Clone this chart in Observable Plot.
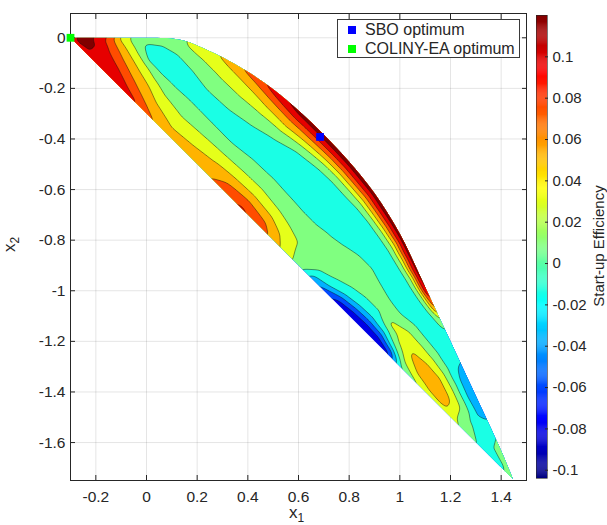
<!DOCTYPE html>
<html><head><meta charset="utf-8">
<script src="https://cdn.jsdelivr.net/npm/d3@7"></script>
<script src="https://cdn.jsdelivr.net/npm/@observablehq/plot@0.6"></script>
<style>
body{margin:0;background:#fff;}
#wrap{position:relative;width:607px;height:525px;font-family:"Liberation Sans",Arial,Helvetica,sans-serif;color:#262626;overflow:hidden;}
#wrap svg{position:absolute;top:0;}
.lab{position:absolute;white-space:nowrap;line-height:1;}
#legend{position:absolute;left:337px;top:19px;width:181px;height:37px;border:1px solid #3a3a3a;background:#fff;font-size:16px;}
#legend .row{position:absolute;left:0;height:18px;}
#legend .sw{position:absolute;left:10px;width:8px;height:8px;}
#legend .tx{position:absolute;left:27px;top:0;line-height:18px;}
</style></head><body><div id="wrap"></div>
<script>
// ---------- data ----------
// contour levels of start-up efficiency (10 equal steps over the data range)
const levels = [-0.104, -0.0816, -0.0592, -0.0368, -0.0144, 0.008, 0.0304, 0.0528, 0.0752, 0.0976];
// upper boundary of the feasible region (x1, x2); lower boundary is the straight line between its two ends
const topX = [-0.3, 0, 0.1, 0.15, 0.2, 0.3, 0.4, 0.5, 0.6, 0.7, 0.8, 0.9, 1.0, 1.1, 1.2, 1.3, 1.4, 1.447];
const topY = [0, 0, -0.003, -0.012, -0.03, -0.077, -0.134, -0.203, -0.287, -0.383, -0.49, -0.615, -0.775, -0.985, -1.2, -1.415, -1.632, -1.745];
// cross-sections of the region, position c = x1 - x2
const secC = [-0.3, -0.25, -0.2, -0.15, -0.1, -0.05, 0, 0.1, 0.2, 0.3, 0.45, 0.6, 0.75, 0.9, 1.05, 1.2, 1.3, 1.4, 1.5, 1.6, 1.7, 1.8, 1.9, 2.0, 2.1, 2.2, 2.3, 2.4, 2.5, 2.6, 2.7, 2.8, 2.9, 3.0, 3.1, 3.19];
// readings measured up from the lower boundary: [offset, efficiency]
const lowS = [
 [[0,0.088]],
 [[0,0.088],[0.005,0.0976]],
 [[0,0.086],[0.011,0.0976],[0.024,0.108],[0.04,0.0976]],
 [[0,0.088]],
 [[0,0.09],[0.054,0.0752],[0.077,0.0528]],
 [[0,0.09],[0.045,0.0752],[0.069,0.0528],[0.09,0.0304]],
 [[0,0.09],[0.0375,0.0752],[0.06,0.0528],[0.084,0.0304],[0.1065,0.008]],
 [[0,0.082],[0.021,0.0752],[0.044,0.0528],[0.071,0.0304],[0.096,0.008],[0.107,-0.0144],[0.136,-0.03]],
 [[0,0.078],[0.007,0.0752],[0.027,0.0528],[0.059,0.0304],[0.084,0.008],[0.107,-0.0144],[0.142,-0.032]],
 [[0,0.06],[0.01,0.0528],[0.04,0.0304],[0.072,0.008],[0.109,-0.0144],[0.142,-0.033]],
 [[0,0.042],[0.023,0.0304],[0.063,0.008],[0.113,-0.0144],[0.14,-0.034]],
 [[0,0.042],[0.03,0.0304],[0.068,0.008],[0.112,-0.0144],[0.14,-0.035]],
 [[0,0.045],[0.04,0.0304],[0.072,0.008],[0.111,-0.0144],[0.145,-0.035]],
 [[0,0.066],[0.024,0.0528],[0.047,0.0304],[0.076,0.008],[0.12,-0.0144],[0.155,-0.035]],
 [[0,0.08],[0.006,0.0752],[0.03,0.0528],[0.05,0.0304],[0.078,0.008],[0.122,-0.0144],[0.17,-0.034]],
 [[0,0.066],[0.02,0.0528],[0.043,0.0304],[0.07,0.008],[0.118,-0.0144],[0.175,-0.033]],
 [[0,0.045],[0.025,0.0304],[0.06,0.008],[0.115,-0.0144],[0.175,-0.033]],
 [[0,0.02],[0.045,0.008],[0.115,-0.0144],[0.175,-0.033]],
 [[0,-0.002],[0.122,-0.0144],[0.175,-0.033]],
 [[0,-0.045],[0.01,-0.0368],[0.03,-0.0144],[0.06,-0.002],[0.13,-0.0144],[0.18,-0.033]],
 [[0,-0.07],[0.008,-0.0592],[0.018,-0.0368],[0.045,-0.0144],[0.09,-0.002],[0.14,-0.0144],[0.18,-0.032]],
 [[0,-0.092],[0.012,-0.0816],[0.022,-0.0592],[0.033,-0.0368],[0.06,-0.0144],[0.1,-0.003],[0.14,-0.0144],[0.175,-0.03]],
 [[0,-0.098],[0.018,-0.0816],[0.028,-0.0592],[0.04,-0.0368],[0.068,-0.0144],[0.095,-0.004],[0.125,-0.0144],[0.165,-0.03]],
 [[0,-0.1],[0.02,-0.0816],[0.03,-0.0592],[0.042,-0.0368],[0.068,-0.0144],[0.09,-0.005],[0.112,-0.0144],[0.15,-0.03]],
 [[0,-0.098],[0.018,-0.0816],[0.027,-0.0592],[0.036,-0.0368],[0.05,-0.0144],[0.062,0.008],[0.068,0.016],[0.075,0.008],[0.09,-0.004],[0.105,-0.0144],[0.14,-0.03]],
 [[0,-0.088],[0.008,-0.0816],[0.014,-0.0592],[0.02,-0.0368],[0.03,-0.0144],[0.045,0.008],[0.065,0.022],[0.088,0.008],[0.1,-0.004],[0.11,-0.0144],[0.14,-0.028]],
 [[0,-0.022],[0.005,-0.0144],[0.018,0.008],[0.042,0.0304],[0.049,0.034],[0.056,0.0304],[0.085,0.008],[0.095,-0.004],[0.105,-0.0144],[0.13,-0.028]],
 [[0,-0.003],[0.004,0.008],[0.02,0.0304],[0.038,0.046],[0.06,0.0304],[0.08,0.008],[0.09,-0.004],[0.1,-0.0144],[0.125,-0.027]],
 [[0,0.02],[0.012,0.0304],[0.034,0.048],[0.057,0.0304],[0.072,0.008],[0.082,-0.004],[0.09,-0.0144],[0.11,-0.03]],
 [[0,0.02],[0.008,0.0304],[0.024,0.044],[0.04,0.0304],[0.058,0.008],[0.066,-0.004],[0.075,-0.0144]],
 [[0,0.018],[0.04,0.008],[0.048,-0.004],[0.058,-0.0144]],
 [[0,0.004],[0.03,-0.0144]],
 [[0,-0.014]],
 [[0,-0.022]],
 [[0,-0.018]],
 [[0,-0.006]]
];
// readings measured down from the upper boundary: [depth, efficiency]
const topS = [
 [],
 [[0,0.11]],
 [[0,0.09]],
 [[0,0.068],[0.013,0.0752]],
 [[0,0.02],[0.004,0.0304]],
 [[0,-0.004],[0.0125,0.008]],
 [[0,-0.004],[0.02,-0.011]],
 [[0,-0.005],[0.033,-0.0144]],
 [[0,0.02],[0.011,0.008],[0.05,-0.0144]],
 [[0,0.022],[0.03,0.008],[0.072,-0.0144]],
 [[0,0.045],[0.016,0.0304],[0.054,0.008],[0.106,-0.0144]],
 [[0,0.068],[0.012,0.0528],[0.035,0.0304],[0.07,0.008],[0.12,-0.0144]],
 [[0,0.09],[0.013,0.0752],[0.028,0.0528],[0.05,0.0304],[0.075,0.008],[0.118,-0.0144]],
 [[0,0.112],[0.007,0.0976],[0.023,0.0752],[0.036,0.0528],[0.057,0.0304],[0.075,0.008],[0.105,-0.0144]],
 [[0,0.112],[0.009,0.0976],[0.022,0.0752],[0.035,0.0528],[0.05,0.0304],[0.065,0.008],[0.085,-0.0144]],
 [[0,0.112],[0.009,0.0976],[0.02,0.0752],[0.031,0.0528],[0.044,0.0304],[0.056,0.008],[0.074,-0.0144]],
 [[0,0.112],[0.009,0.0976],[0.019,0.0752],[0.03,0.0528],[0.042,0.0304],[0.053,0.008],[0.07,-0.0144]],
 [[0,0.111],[0.008,0.0976],[0.018,0.0752],[0.028,0.0528],[0.04,0.0304],[0.05,0.008],[0.067,-0.0144]],
 [[0,0.11],[0.008,0.0976],[0.017,0.0752],[0.026,0.0528],[0.038,0.0304],[0.048,0.008],[0.062,-0.0144]],
 [[0,0.11],[0.008,0.0976],[0.016,0.0752],[0.024,0.0528],[0.035,0.0304],[0.045,0.008],[0.056,-0.0144]],
 [[0,0.11],[0.007,0.0976],[0.014,0.0752],[0.022,0.0528],[0.032,0.0304],[0.041,0.008],[0.053,-0.0144]],
 [[0,0.11],[0.007,0.0976],[0.013,0.0752],[0.02,0.0528],[0.029,0.0304],[0.038,0.008],[0.049,-0.0144]],
 [[0,0.11],[0.006,0.0976],[0.011,0.0752],[0.018,0.0528],[0.026,0.0304],[0.034,0.008],[0.044,-0.0144]],
 [[0,0.11],[0.005,0.0976],[0.01,0.0752],[0.015,0.0528],[0.022,0.0304],[0.028,0.008],[0.038,-0.0144]],
 [[0,0.105],[0.003,0.0976],[0.008,0.0752],[0.012,0.0528],[0.018,0.0304],[0.023,0.008],[0.031,-0.0144]],
 [[0,0.06],[0.004,0.0528],[0.008,0.0304],[0.013,0.008],[0.02,-0.0144]],
 [[0,-0.008],[0.008,-0.0144]],
 [[0,-0.024]],
 [[0,-0.033]],
 [[0,-0.05],[0.025,-0.0368]],
 [[0,-0.05],[0.026,-0.0368]],
 [[0,-0.046],[0.022,-0.0368]],
 [[0,-0.03]],
 [[0,-0.004],[0.014,-0.0144]],
 [[0,-0.004],[0.008,-0.0144]],
 []
];
const optima = [
  {name: "SBO optimum", x: 0.685, y: -0.392, color: "#0000ff"},
  {name: "COLINY-EA optimum", x: -0.3, y: 0, color: "#00ff00"}
];
const xTicks = [-0.2, 0, 0.2, 0.4, 0.6, 0.8, 1, 1.2, 1.4];
const yTicks = [-1.6, -1.4, -1.2, -1, -0.8, -0.6, -0.4, -0.2, 0];
const cbTicks = [-0.1, -0.08, -0.06, -0.04, -0.02, 0, 0.02, 0.04, 0.06, 0.08, 0.1];
const cbDomain = [-0.104, 0.12];

// ---------- helpers ----------
function jet(t) {
  const c = v => Math.max(0, Math.min(1, v));
  const r = c(1.5 - Math.abs(4 * t - 3)), g = c(1.5 - Math.abs(4 * t - 2)), b = c(1.5 - Math.abs(4 * t - 1));
  return `rgb(${Math.round(r * 255)},${Math.round(g * 255)},${Math.round(b * 255)})`;
}
const topCW = topX.map((x, i) => ({c: x - topY[i], w: (x + topY[i] + 0.3) / 2}));
function wmaxAt(c) {
  if (c <= topCW[0].c) return 0;
  for (let i = 0; i < topCW.length - 1; i++) {
    const a = topCW[i], b = topCW[i + 1];
    if (c <= b.c) return a.w + (b.w - a.w) * (c - a.c) / (b.c - a.c);
  }
  return 0;
}
const samples = [];
function put(c, w, v) { samples.push({x: (c - 0.3) / 2 + w, y: -(c + 0.3) / 2 + w, v}); }
const PAD = 0.035; // edge readings repeated just outside the region so smoothing keeps edge bands
secC.forEach((c, i) => {
  const wm = wmaxAt(c);
  for (const [w, v] of lowS[i]) put(c, Math.min(w, wm), v);
  for (const [d, v] of topS[i]) put(c, Math.max(0, wm - d), v);
  if (lowS[i].length) put(c, -PAD, lowS[i][0][1]);
  const tv = topS[i].length ? topS[i][0][1] : lowS[i][lowS[i].length - 1][1];
  put(c, wm + PAD, tv);
});
// beyond both tips
put(-0.3 - PAD * 2, 0, lowS[0][0][1]);
put(3.19 + PAD * 2, 0, lowS[lowS.length - 1][0][1]);

const fmt = d => String(d);
const font = "'Liberation Sans', Arial, Helvetica, sans-serif";

// ---------- main chart ----------
const chart = Plot.plot({
  width: 540, height: 525,
  marginLeft: 70, marginRight: 14, marginTop: 13, marginBottom: 45,
  x: {domain: [-0.3, 1.5]},
  y: {domain: [-1.75, 0.096]},
  color: {type: "linear", domain: [levels[0], levels[levels.length - 1]], interpolate: t => jet(0.1 + 0.9 * t)},
  style: {fontFamily: font, fontSize: "15.5px", color: "#262626", background: "transparent"},
  marks: [
    Plot.gridX(xTicks, {stroke: "#262626", strokeOpacity: 0.12}),
    Plot.gridY(yTicks, {stroke: "#262626", strokeOpacity: 0.12}),
    Plot.contour(samples, {x: "x", y: "y", fill: "v", thresholds: levels, interpolate: "barycentric", pixelSize: 1, blur: 1.5}),
    Plot.contour(samples, {x: "x", y: "y", value: "v", thresholds: levels.slice(1), interpolate: "barycentric", pixelSize: 1, blur: 1.5, fill: "none", stroke: "#111", strokeWidth: 0.55, strokeOpacity: 0.85}),
    Plot.frame({stroke: "#262626"}),
    Plot.axisX(xTicks, {anchor: "bottom", tickSize: -5, tickPadding: 15, tickFormat: fmt, label: null}),
    Plot.axisX(xTicks, {anchor: "top", tickSize: -5, tickFormat: () => "", label: null}),
    Plot.axisY(yTicks, {anchor: "left", tickSize: -5, tickPadding: 10, tickFormat: fmt, label: null}),
    Plot.axisY(yTicks, {anchor: "right", tickSize: -5, tickFormat: () => "", label: null}),
    Plot.dot(optima, {x: "x", y: "y", symbol: "square", r: 4.4, fill: d => d.color})
  ]
});
// clip the filled contours to the feasible region (smooth upper boundary, straight lower boundary)
{
  const xs = chart.scale("x"), ys = chart.scale("y");
  const pts = topX.map((x, i) => [xs.apply(x), ys.apply(topY[i])]);
  const d = d3.line().curve(d3.curveCatmullRom.alpha(0.5))(pts) + "Z";
  const ns = "http://www.w3.org/2000/svg";
  const defs = document.createElementNS(ns, "defs");
  const cp = document.createElementNS(ns, "clipPath");
  cp.setAttribute("id", "region-clip");
  const p = document.createElementNS(ns, "path");
  p.setAttribute("d", d);
  cp.appendChild(p); defs.appendChild(cp);
  chart.insertBefore(defs, chart.firstChild);
  chart.querySelectorAll('g[aria-label="contour"]').forEach(g => g.setAttribute("clip-path", "url(#region-clip)"));
}
chart.style.left = "0px";

// ---------- colorbar ----------
const steps = d3.range(cbDomain[0], cbDomain[1], 0.0005);
const cb = Plot.plot({
  width: 87, height: 525, marginLeft: 16, marginRight: 60, marginTop: 15, marginBottom: 47,
  x: {domain: [0, 1], axis: null},
  y: {domain: cbDomain},
  color: {type: "linear", domain: cbDomain, interpolate: jet},
  style: {fontFamily: font, fontSize: "15px", color: "#262626", background: "transparent"},
  marks: [
    Plot.rect(steps, {x1: 0, x2: 1, y1: d => d, y2: d => Math.min(cbDomain[1], d + 0.0006), fill: d => d}),
    Plot.frame({stroke: "#262626", strokeWidth: 0.6}),
    Plot.axisY(cbTicks, {anchor: "right", tickSize: -3, tickPadding: 8, tickFormat: fmt, label: null})
  ]
});
cb.style.left = "520px";

const wrap = document.getElementById("wrap");
wrap.appendChild(chart);
wrap.appendChild(cb);

// axis titles, colorbar title, legend
wrap.insertAdjacentHTML("beforeend", `
<div class="lab" style="left:289px;top:504px;font-size:17px;">x<span style="font-size:12px;position:relative;top:4px;">1</span></div>
<div class="lab" style="left:2px;top:236px;font-size:17px;transform:rotate(-90deg);transform-origin:center;">x<span style="font-size:12px;position:relative;top:4px;">2</span></div>
<div class="lab" style="left:598px;top:246px;font-size:15px;transform:translate(-50%,-50%) rotate(-90deg);">Start-up Efficiency</div>
<div id="legend">
  ${optima.map((o, i) => `<div class="row" style="top:${i * 19 + 1}px;width:100%"><div class="sw" style="top:5px;background:${o.color}"></div><div class="tx">${o.name}</div></div>`).join("")}
</div>`);
</script>
</body></html>
